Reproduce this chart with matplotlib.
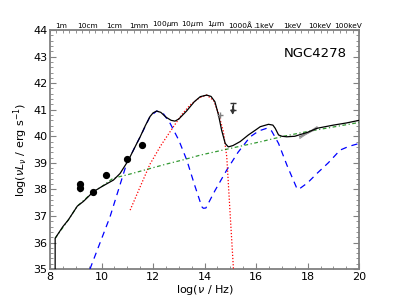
import matplotlib
matplotlib.use("Agg")
import matplotlib.pyplot as plt
from matplotlib.ticker import MultipleLocator

# total model (black solid)
total_x = [8.2, 8.2, 8.5, 8.71, 9.06, 9.3, 9.68, 10.0, 10.46, 10.72, 10.98, 11.11, 11.3, 11.5,
           11.7, 11.88, 12.0, 12.14, 12.3, 12.5, 12.7, 12.85, 13.0, 13.3, 13.6, 13.83, 14.08,
           14.25, 14.4, 14.54, 14.66, 14.8, 14.92, 15.1, 15.38, 15.7, 16.0, 16.16, 16.48,
           16.65, 16.74, 16.87, 17.0, 17.19, 17.5, 18.0, 18.36, 19.0, 19.5, 20.0]
total_y = [34.9, 36.16, 36.6, 36.85, 37.37, 37.55, 37.91, 38.1, 38.35, 38.6, 39.0, 39.23, 39.6, 39.98,
           40.4, 40.74, 40.88, 40.95, 40.9, 40.72, 40.6, 40.57, 40.65, 40.95, 41.3, 41.49, 41.55,
           41.5, 41.3, 40.8, 40.23, 39.73, 39.6, 39.65, 39.8, 40.05, 40.25, 40.36, 40.45,
           40.42, 40.3, 40.05, 40.0, 39.98, 40.0, 40.15, 40.3, 40.42, 40.5, 40.6]

# dust / torus component (blue dashed)
blue_x = [9.55, 10.33, 10.98, 11.5, 11.88, 12.14, 12.4, 12.66, 13.0, 13.31, 13.6, 13.89, 13.95,
          14.05, 14.4, 14.86, 15.3, 15.77, 16.1, 16.41, 16.6, 16.87, 17.2, 17.58, 17.65, 18.0,
          18.36, 18.8, 19.26, 19.6, 20.0]
blue_y = [35.0, 36.97, 38.99, 39.98, 40.74, 40.95, 40.85, 40.49, 39.85, 39.1, 38.2, 37.35, 37.29,
          37.3, 37.95, 38.73, 39.4, 39.98, 40.2, 40.3, 40.2, 39.73, 38.9, 38.04, 38.0, 38.25,
          38.6, 39.0, 39.48, 39.62, 39.73]

# stellar component (red dotted)
red_x = [11.11, 11.5, 11.88, 12.3, 12.79, 13.1, 13.44, 13.8, 14.08, 14.35, 14.54, 14.73, 14.86,
         14.99, 15.12]
red_y = [37.22, 38.1, 38.95, 39.65, 40.36, 40.8, 41.18, 41.45, 41.55, 41.35, 40.85, 40.17, 39.23,
         37.1, 35.0]

# jet / power law (green dash-dot)
green_x = [8.2, 8.71, 9.06, 9.68, 10.0, 10.45, 11.0, 11.75, 12.5, 13.2, 13.83, 14.8, 15.5, 16.2,
           17.06, 18.0, 19.0, 20.0]
green_y = [36.16, 36.85, 37.37, 37.91, 38.1, 38.42, 38.55, 38.75, 38.95, 39.12, 39.29, 39.5, 39.65,
           39.8, 40.0, 40.18, 40.35, 40.52]

# photometry
det_x = [9.17, 9.68, 10.17, 10.98, 11.56]
det_y = [38.05, 37.91, 38.54, 39.14, 39.67]
lim_x = [9.17]
lim_y = [38.2]
uv_lim_x = [15.09]
uv_lim_y = [41.0]
xray_x = [17.7, 18.0, 18.36]
xray_y = [39.98, 40.12, 40.3]

top_labels = ["1m", "10cm", "1cm", "1mm", "100$\\mu$m", "10$\\mu$m", "1$\\mu$m", "1000\u00c5",
              ".1keV", "1keV", "10keV", "100keV"]
top_pos = [8.43, 9.44, 10.49, 11.46, 12.47, 13.51, 14.45, 15.38, 16.3, 17.4, 18.45, 19.55]

fig = plt.figure(figsize=(4, 3), dpi=100, facecolor="white")
ax = fig.add_axes([0.125, 0.103, 0.773, 0.797])

ax.plot(total_x, total_y, color="black", lw=0.9, zorder=5)
ax.plot(blue_x, blue_y, color="blue", ls=(0, (5, 4)), lw=0.9, zorder=3)
ax.plot(red_x, red_y, color="red", ls=(0, (1, 1.5)), lw=0.9, zorder=3)
ax.plot(green_x, green_y, color="green", ls=(0, (3, 2, 1, 2)), lw=0.9, alpha=0.8, zorder=3)

ax.plot(det_x, det_y, "o", color="black", ms=4.2, zorder=6)
ax.plot(lim_x, lim_y, "o", color="black", ms=4.2, zorder=6)
for x, y in zip(lim_x, lim_y):
    ax.annotate("", xy=(x, y - 0.45), xytext=(x, y),
                arrowprops=dict(arrowstyle="-|>", color="black", lw=1.2, mutation_scale=6), zorder=6)
for x, y in zip(uv_lim_x, uv_lim_y):
    ax.plot([x, x], [y - 0.02, y + 0.24], marker="_", color="0.2", ms=5, lw=0.9, zorder=6)
    ax.annotate("", xy=(x, y - 0.3), xytext=(x, y + 0.24),
                arrowprops=dict(arrowstyle="-|>", color="0.2", lw=0.9, mutation_scale=6), zorder=6)
ax.plot([14.6], [40.8], marker="+", color="0.5", ms=4, zorder=6)
ax.plot(xray_x, xray_y, color="0.5", lw=1.2, zorder=4)
ax.plot([17.7, 18.36], [39.92, 40.36], color="0.6", lw=0.8, zorder=4)

ax.set_xlim(8, 20)
ax.set_ylim(35, 44)
ax.xaxis.set_major_locator(MultipleLocator(2))
ax.xaxis.set_minor_locator(MultipleLocator(0.5))
ax.yaxis.set_major_locator(MultipleLocator(1))
ax.yaxis.set_minor_locator(MultipleLocator(0.2))
ax.tick_params(which="both", direction="in", right=True, color="0.5", labelsize=8, pad=2)
ax.tick_params(which="major", length=4)
ax.tick_params(which="minor", length=2)
for s in ax.spines.values():
    s.set_color("0.5")
    s.set_linewidth(1.3)
ax.set_xlabel("log($\\nu$ / Hz)", fontsize=8, labelpad=1)
ax.set_ylabel("log($\\nu L_\\nu$ / erg s$^{-1}$)", fontsize=8, labelpad=2)
ax.text(0.96, 0.93, "NGC4278", transform=ax.transAxes, ha="right", va="top", fontsize=9.5)

top = ax.twiny()
top.set_xlim(ax.get_xlim())
top.set_xticks(top_pos)
top.set_xticklabels(top_labels, fontsize=5.3)
top.xaxis.set_minor_locator(MultipleLocator(0.25))
top.tick_params(which="both", direction="in", color="0.5", pad=1)
top.tick_params(which="major", length=0)
top.tick_params(which="minor", length=2)
for s in top.spines.values():
    s.set_visible(False)

fig.savefig("out.png", dpi=100, facecolor="white")
